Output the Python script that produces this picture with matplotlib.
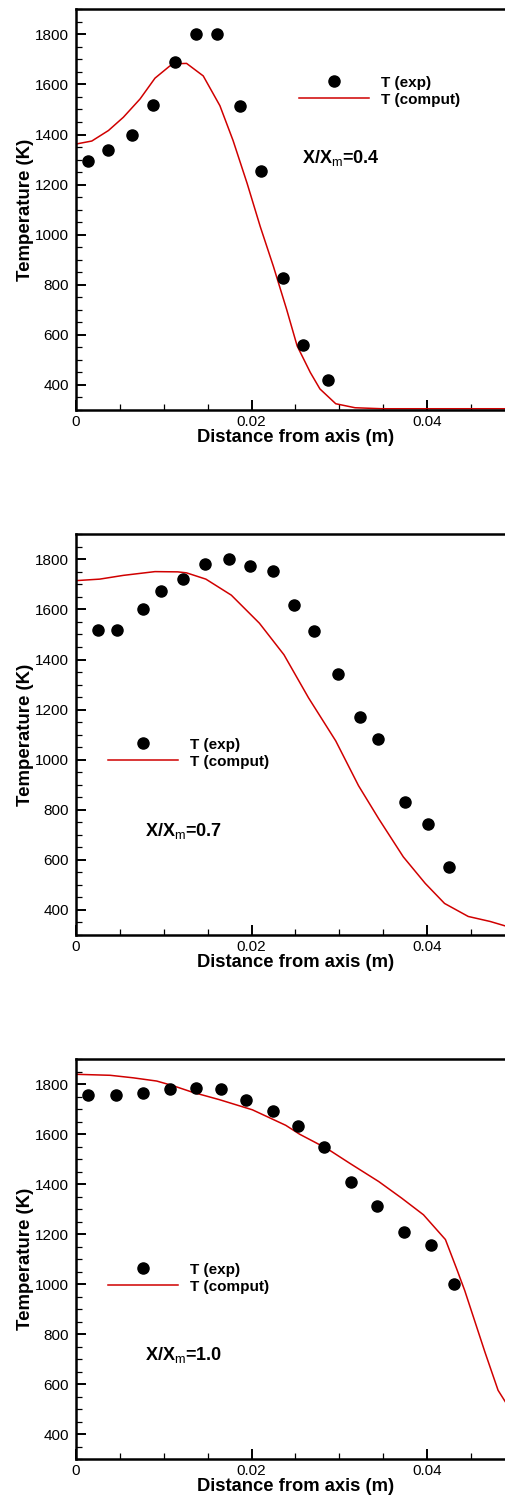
import matplotlib
matplotlib.use("Agg")
import matplotlib.pyplot as plt
from matplotlib.ticker import MultipleLocator, FixedLocator, FixedFormatter

plt.rcParams["font.family"] = ["Liberation Sans", "DejaVu Sans"]
plt.rcParams["mathtext.fontset"] = "custom"
plt.rcParams["mathtext.rm"] = "Liberation Sans"
plt.rcParams["mathtext.bf"] = "Liberation Sans:bold"

# Radial temperature profiles at three axial stations
stations = ["0.4", "0.7", "1.0"]

# Measured temperatures (K) vs distance from axis (m)
r_exp_04 = [0.0014, 0.0037, 0.0064, 0.0088, 0.0113, 0.0137, 0.0161, 0.0187, 0.0211, 0.0236, 0.0259, 0.0287]
t_exp_04 = [1296, 1338, 1398, 1518, 1691, 1803, 1803, 1514, 1253, 829, 559, 420]

r_exp_07 = [0.0025, 0.0047, 0.0076, 0.0097, 0.0122, 0.0147, 0.0174, 0.0198, 0.0224, 0.0249, 0.0271, 0.0299,
            0.0324, 0.0344, 0.0375, 0.0401, 0.0425]
t_exp_07 = [1518, 1518, 1601, 1672, 1723, 1783, 1800, 1774, 1755, 1617, 1514, 1341,
            1169, 1081, 833, 745, 572]

r_exp_10 = [0.0014, 0.0046, 0.0076, 0.0107, 0.0137, 0.0165, 0.0194, 0.0224, 0.0253, 0.0283, 0.0313,
            0.0343, 0.0374, 0.0405, 0.0431]
t_exp_10 = [1758, 1758, 1766, 1783, 1784, 1783, 1739, 1695, 1634, 1548, 1409,
            1314, 1209, 1156, 1000]

# Computed temperatures (K)
r_cmp_04 = [0.0, 0.0018, 0.0037, 0.0054, 0.0073, 0.0090, 0.0107, 0.0118, 0.0126, 0.0145, 0.0164, 0.0179,
            0.0195, 0.0210, 0.0225, 0.0240, 0.0252, 0.0267, 0.0278, 0.0296, 0.0318, 0.0349, 0.0500]
t_cmp_04 = [1362, 1374, 1416, 1469, 1542, 1625, 1674, 1683, 1684, 1634, 1515, 1376,
            1205, 1032, 873, 702, 556, 450, 384, 325, 309, 305, 305]

r_cmp_07 = [0.0, 0.0027, 0.0054, 0.0090, 0.0116, 0.0126, 0.0148, 0.0177, 0.0209, 0.0237, 0.0265, 0.0296,
            0.0322, 0.0345, 0.0373, 0.0398, 0.0420, 0.0447, 0.0472, 0.0500]
t_cmp_07 = [1715, 1721, 1736, 1751, 1750, 1746, 1721, 1657, 1545, 1419, 1247, 1075,
            896, 764, 612, 506, 426, 374, 354, 325]

r_cmp_10 = [0.0, 0.0039, 0.0065, 0.0092, 0.0110, 0.0133, 0.0163, 0.0201, 0.0239, 0.0255, 0.0286, 0.0312,
            0.0345, 0.0371, 0.0396, 0.0421, 0.0434, 0.0443, 0.0466, 0.0481, 0.0500]
t_cmp_10 = [1840, 1836, 1826, 1813, 1795, 1768, 1739, 1698, 1636, 1600, 1543, 1484,
            1411, 1345, 1278, 1179, 1060, 975, 729, 576, 470]

panels = [
    (r_exp_04, t_exp_04, r_cmp_04, t_cmp_04),
    (r_exp_07, t_exp_07, r_cmp_07, t_cmp_07),
    (r_exp_10, t_exp_10, r_cmp_10, t_cmp_10),
]

x_ticks = [0.0, 0.02, 0.04]
x_tick_labels = ["0", "0.02", "0.04"]
y_ticks = [400, 600, 800, 1000, 1200, 1400, 1600, 1800]

W, H = 506, 1501
fig = plt.figure(figsize=(W / 100, H / 100), dpi=100)

# axes boxes in pixels: (top, bottom)
boxes = [(9.3, 410.0), (534.3, 935.0), (1059.3, 1459.3)]
left_px, right_px = 76.0, 514.75

legend_anchor = [(0.508, 0.796), (0.073, 0.4535), (0.073, 0.4528)]
label_pos = [(0.515, 0.629), (0.157, 0.26), (0.157, 0.26)]

red = "#d00000"

for i, ((rx, tx, rc, tc), (top, bot)) in enumerate(zip(panels, boxes)):
    ax = fig.add_axes([left_px / W, 1 - bot / H, (right_px - left_px) / W, (bot - top) / H])
    ax.plot(rx, tx, "o", color="black", markersize=8, label="T (exp)", zorder=3)
    ax.plot(rc, tc, "-", color=red, linewidth=1.1, label="T (comput)", zorder=2)
    ax.set_xlim(0, 0.05)
    ax.set_ylim(300, 1900)
    ax.xaxis.set_major_locator(FixedLocator(x_ticks))
    ax.xaxis.set_major_formatter(FixedFormatter(x_tick_labels))
    ax.xaxis.set_minor_locator(MultipleLocator(0.005))
    ax.yaxis.set_major_locator(FixedLocator(y_ticks))
    ax.yaxis.set_minor_locator(MultipleLocator(50))
    ax.tick_params(which="both", direction="in", top=False, right=False, labelsize=11, width=1.0)
    ax.tick_params(which="major", length=7.5, width=1.4)
    ax.tick_params(which="minor", length=4.5, width=0.9)
    ax.tick_params(axis="y", pad=5)
    ax.tick_params(axis="x", pad=3.5)
    for s in ax.spines.values():
        s.set_linewidth(1.8)
    ax.set_xlabel("Distance from axis (m)", fontsize=13.2, fontweight="bold", labelpad=0)
    ax.set_ylabel("Temperature (K)", fontsize=13.4, fontweight="bold", labelpad=1)
    ax.legend(loc="center left", bbox_to_anchor=legend_anchor[i], frameon=False,
              prop={"weight": "bold", "size": 11}, handlelength=4.6, handletextpad=0.78,
              labelspacing=0.2, borderpad=0, borderaxespad=0, numpoints=1)
    lx, ly = label_pos[i]
    ax.text(lx, ly, "X/X$_{\\mathrm{m}}$=" + stations[i], transform=ax.transAxes,
            fontsize=13, fontweight="bold", ha="left", va="center")

fig.savefig("out.png", dpi=100)
